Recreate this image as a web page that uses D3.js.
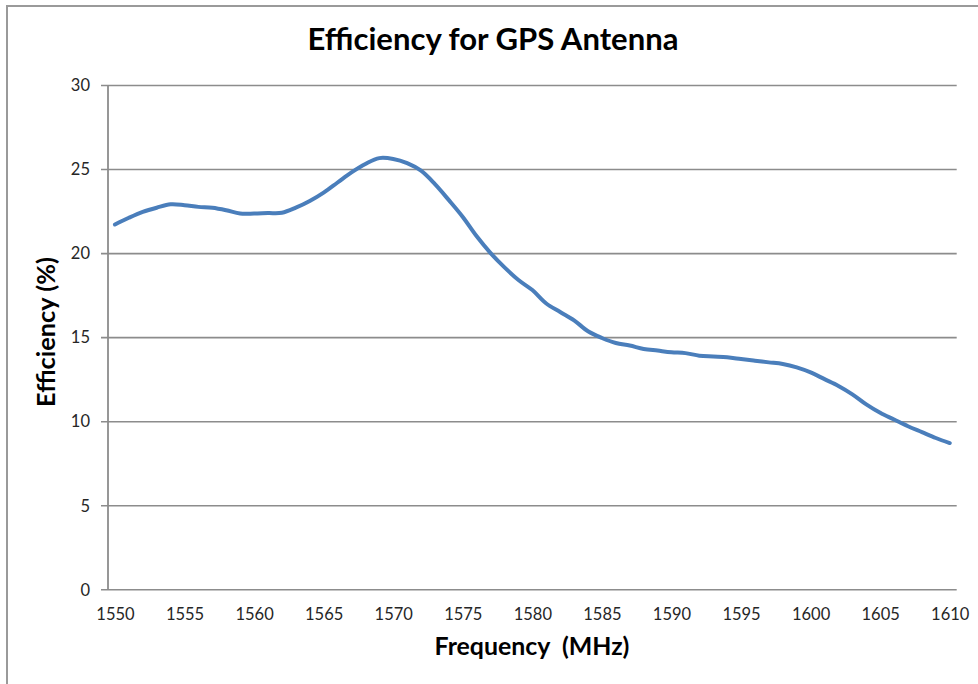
<!DOCTYPE html>
<html>
<head>
<meta charset="utf-8">
<script src="https://cdn.jsdelivr.net/npm/d3@7"></script>
<style>
  html, body { margin: 0; padding: 0; background: #fff; }
  svg { display: block; }
  text { font-family: Lato, "Open Sans", sans-serif; }
</style>
</head>
<body>
<svg id="chart" width="978" height="684"></svg>
<script>
const frequencies = [1550,1551,1552,1553,1554,1555,1556,1557,1558,1559,1560,1561,1562,1563,1564,1565,1566,1567,1568,1569,1570,1571,1572,1573,1574,1575,1576,1577,1578,1579,1580,1581,1582,1583,1584,1585,1586,1587,1588,1589,1590,1591,1592,1593,1594,1595,1596,1597,1598,1599,1600,1601,1602,1603,1604,1605,1606,1607,1608,1609,1610];
const efficiency = [21.7,22.1,22.45,22.7,22.9,22.85,22.75,22.7,22.55,22.35,22.35,22.38,22.4,22.7,23.1,23.6,24.2,24.8,25.3,25.65,25.6,25.35,24.9,24.1,23.15,22.15,21.0,20.0,19.15,18.4,17.8,17.0,16.5,16.0,15.35,14.95,14.65,14.5,14.3,14.2,14.1,14.05,13.9,13.85,13.8,13.7,13.6,13.5,13.4,13.2,12.9,12.5,12.1,11.6,11.0,10.5,10.1,9.7,9.35,9.0,8.7];
const xTickLabels = [1550,1555,1560,1565,1570,1575,1580,1585,1590,1595,1600,1605,1610];
const yTickValues = [0,5,10,15,20,25,30];
const titleText = "Efficiency for GPS Antenna";
const xLabelText = "Frequency  (MHz)";
const yLabelText = "Efficiency (%)";

const svg = d3.select("#chart");
const plot = { left: 108, right: 956.7, top: 85, bottom: 589.3 };

// outer chart border (top + left visible)
svg.append("path")
  .attr("d", `M7,684 L7,6 L978,6`)
  .attr("fill", "none").attr("stroke", "#9a9a9a").attr("stroke-width", 2);

const x = d3.scalePoint().domain(frequencies).range([plot.left, plot.right]).padding(0.5);
const y = d3.scaleLinear().domain([0, 30]).range([plot.bottom, plot.top]);

// gridlines + y axis
const yAxis = d3.axisLeft(y).tickValues(yTickValues)
  .tickSize(-(plot.right - plot.left)).tickSizeOuter(0).tickPadding(18);
const gy = svg.append("g").attr("transform", `translate(${plot.left},0)`).call(yAxis);
gy.select(".domain").remove();
gy.selectAll(".tick line").attr("stroke", "#8c8c8c").attr("stroke-width", 1.6).attr("x1", -7);
gy.selectAll(".tick text").attr("fill", "#262626").style("font-size", "16.5px").attr("dy", "0.35em");

// y axis line
svg.append("line").attr("x1", plot.left).attr("x2", plot.left)
  .attr("y1", plot.top).attr("y2", plot.bottom)
  .attr("stroke", "#8c8c8c").attr("stroke-width", 1.8);

// x axis
const xAxis = d3.axisBottom(x).tickValues(xTickLabels).tickSize(0).tickSizeOuter(0).tickPadding(19);
const gx = svg.append("g").attr("transform", `translate(0,${plot.bottom})`).call(xAxis);
gx.select(".domain").remove();
gx.selectAll(".tick text").attr("fill", "#262626").style("font-size", "16.5px");

// line
const line = d3.line()
  .x((d, i) => x(frequencies[i]))
  .y(d => y(d))
  .curve(d3.curveCatmullRom.alpha(0.5));
svg.append("path").datum(efficiency)
  .attr("fill", "none").attr("stroke", "#4a7ebb").attr("stroke-width", 4)
  .attr("stroke-linejoin", "round").attr("stroke-linecap", "round")
  .attr("d", line);

function fit(sel, targetWidth, startSize) {
  sel.style("font-size", startSize + "px");
  const w = sel.node().getComputedTextLength();
  if (w > 0) sel.style("font-size", (startSize * targetWidth / w) + "px");
}

const title = svg.append("text").attr("x", 493).attr("y", 50)
  .attr("text-anchor", "middle").attr("font-weight", "bold").attr("fill", "#000")
  .text(titleText);
fit(title, 371, 26);

const xl = svg.append("text").attr("x", 532).attr("y", 655)
  .attr("text-anchor", "middle").attr("font-weight", "bold").attr("fill", "#000")
  .attr("xml:space", "preserve").style("white-space", "pre")
  .text(xLabelText);
fit(xl, 195, 20);

const yl = svg.append("text").attr("transform", "translate(55,332) rotate(-90)")
  .attr("text-anchor", "middle").attr("font-weight", "bold").attr("fill", "#000")
  .text(yLabelText);
fit(yl, 150, 20);
</script>
</body>
</html>
